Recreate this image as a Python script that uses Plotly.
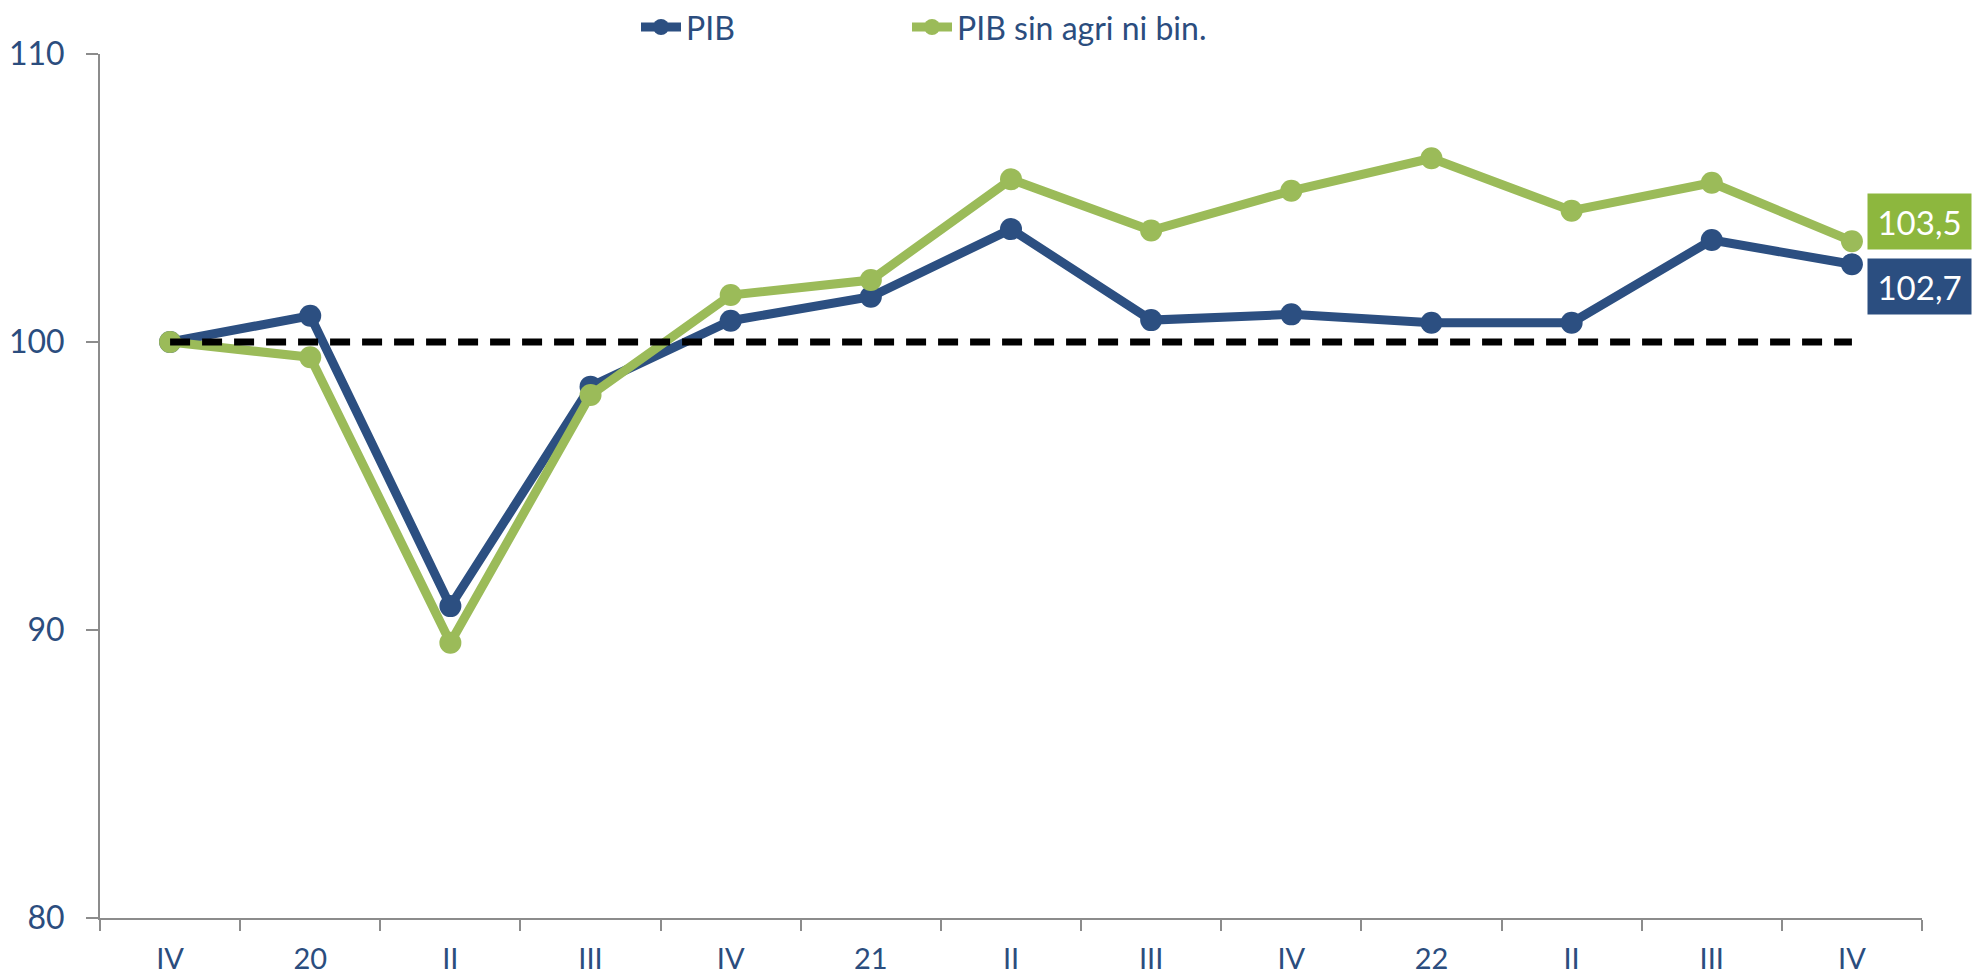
import plotly.graph_objects as go

quarters = ["IV", "20", "II", "III", "IV", "21", "II", "III", "IV", "22", "II", "III", "IV"]
pib = [100.0, 100.91, 90.83, 98.45, 100.74, 101.57, 103.92, 100.76, 100.96, 100.67, 100.67, 103.54, 102.7]
pib_sin = [100.0, 99.47, 89.56, 98.16, 101.63, 102.15, 105.65, 103.87, 105.25, 106.38, 104.56, 105.53, 103.5]
baseline = 100
series_names = ["PIB", "PIB sin agri ni bin."]
end_labels = ["102,7", "103,5"]

BLUE = "#2C4F81"
GREEN = "#9BBB59"
TEXT = "#2B4D7E"
AXIS = "#8C8C8C"
FONT = "Lato"

xs = list(range(len(quarters)))

fig = go.Figure()
fig.add_trace(go.Scatter(
    x=xs, y=pib, mode="lines+markers", name=series_names[0], legend="legend",
    line=dict(color=BLUE, width=9), marker=dict(color=BLUE, size=22),
))
fig.add_trace(go.Scatter(
    x=xs, y=pib_sin, mode="lines+markers", name=series_names[1], legend="legend2",
    line=dict(color=GREEN, width=9), marker=dict(color=GREEN, size=22),
))
fig.add_trace(go.Scatter(
    x=xs, y=[baseline] * len(xs), mode="lines", showlegend=False,
    line=dict(color="black", width=7, dash="20px,12px"), hoverinfo="skip",
))

fig.add_annotation(x=xs[-1], y=pib_sin[-1], text=end_labels[1], showarrow=False,
                   xanchor="left", yanchor="middle", xshift=15, yshift=20,
                   width=101, height=53, bgcolor="#8DB73E",
                   font=dict(family=FONT, size=33, color="white"))
fig.add_annotation(x=xs[-1], y=pib[-1], text=end_labels[0], showarrow=False,
                   xanchor="left", yanchor="middle", xshift=15, yshift=-22,
                   width=101, height=53, bgcolor="#2B4E80",
                   font=dict(family=FONT, size=33, color="white"))

legend_common = dict(orientation="h", yanchor="middle", y=1.031, xanchor="left",
                     font=dict(family=FONT, size=32, color=TEXT),
                     bgcolor="rgba(0,0,0,0)", itemwidth=40, borderwidth=0)

fig.update_layout(
    width=1972, height=976,
    margin=dict(l=100, r=50, t=54, b=58, autoexpand=False),
    paper_bgcolor="white", plot_bgcolor="white",
    font=dict(family=FONT, color=TEXT),
    showlegend=True,
    legend=dict(legend_common, x=(636 - 100) / 1822),
    legend2=dict(legend_common, x=(907 - 100) / 1822),
    xaxis=dict(
        range=[-0.5, len(xs) - 0.5], tickmode="array", tickvals=xs, ticktext=quarters,
        ticks="", showgrid=False, zeroline=False, automargin=False,
        showline=True, linecolor=AXIS, linewidth=2,
        tickfont=dict(family=FONT, size=29, color=TEXT), ticklabelstandoff=14,
        minor=dict(tickmode="linear", tick0=-0.5, dtick=1, ticks="outside",
                   ticklen=11, tickcolor=AXIS, tickwidth=2, showgrid=False),
    ),
    yaxis=dict(
        range=[80, 110], dtick=10, ticks="outside", ticklen=12, tickcolor=AXIS, tickwidth=2,
        showline=True, linecolor=AXIS, linewidth=2, showgrid=False, zeroline=False,
        automargin=False,
        tickfont=dict(family=FONT, size=32, color=TEXT), ticklabelstandoff=15,
    ),
)

fig.write_html("out.html", config={"displayModeBar": False},
               post_script="document.body.style.margin='0';")
